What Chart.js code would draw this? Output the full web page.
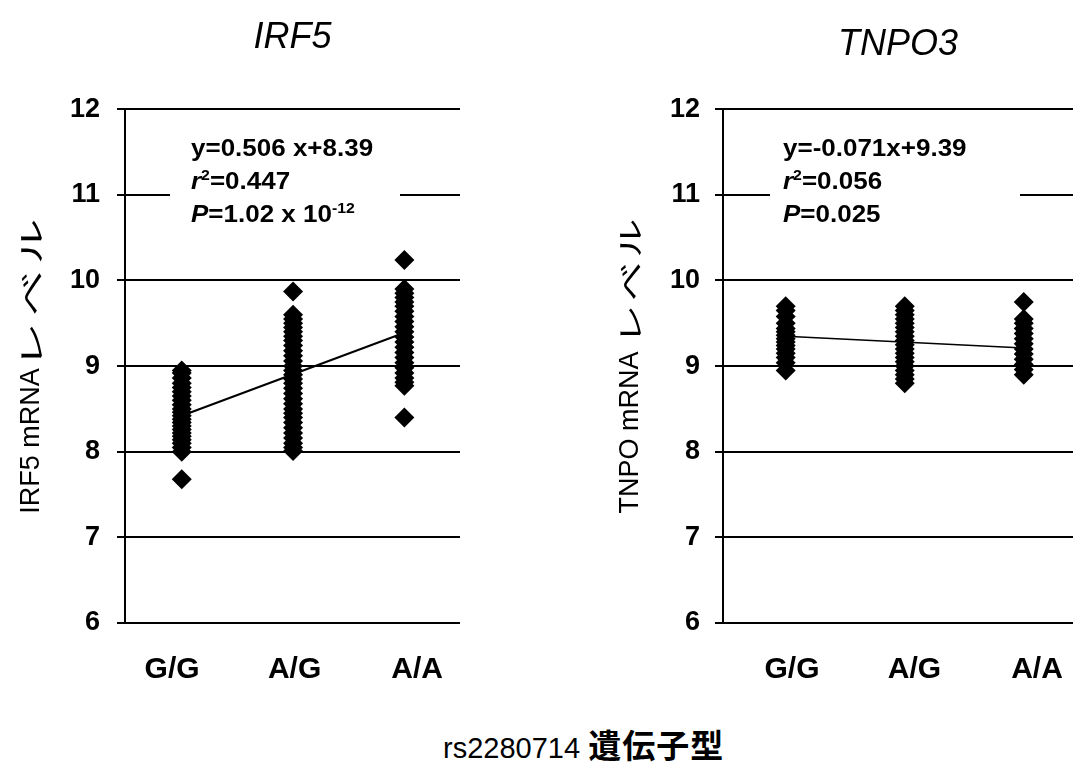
<!DOCTYPE html>
<html>
<head>
<meta charset="utf-8">
<script src="https://cdn.jsdelivr.net/npm/chart.js@4"></script>
<style>
  html, body { margin: 0; padding: 0; background: #fff; }
  #page { position: relative; width: 1073px; height: 764px; overflow: hidden; }
  #irf5 { position: absolute; left: 0; top: 0; }
  #tnpo { position: absolute; left: 600px; top: 0; }
  #xlab {
    position: absolute; left: 443px; top: 724px;
    font: 29px "Liberation Sans", Arial, sans-serif; line-height: 40px; color: #000;
    white-space: nowrap;
  }
  #xlab b { font-family: "Noto Sans CJK JP", sans-serif; font-size: 33px; font-weight: 700; letter-spacing: 1px; }
</style>
</head>
<body>
<div id="page">
  <canvas id="irf5" width="480" height="700"></canvas>
  <canvas id="tnpo" width="473" height="700"></canvas>
  <div id="xlab">rs2280714 <b>遺伝子型</b></div>
</div>
<script>
/* genotype groups on the x axis */
const genotypes = ["G/G", "A/G", "A/A"];

/* IRF5 mRNA levels, one array per genotype */
const irf5GG = [7.68, 8.00, 8.05, 8.10, 8.14, 8.18, 8.22, 8.26, 8.30, 8.34, 8.38, 8.42,
                8.46, 8.50, 8.55, 8.60, 8.65, 8.70, 8.75, 8.80, 8.86, 8.92, 8.95];
const irf5AG = [8.01, 8.05, 8.10, 8.16, 8.22, 8.28, 8.34, 8.40, 8.45, 8.50, 8.56, 8.62,
                8.68, 8.74, 8.80, 8.85, 8.90, 8.95, 9.00, 9.06, 9.12, 9.18, 9.24, 9.30,
                9.35, 9.40, 9.45, 9.50, 9.55, 9.60, 9.87];
const irf5AA = [8.40, 8.77, 8.81, 8.86, 8.92, 8.98, 9.04, 9.10, 9.16, 9.22, 9.28, 9.34,
                9.40, 9.46, 9.52, 9.58, 9.64, 9.70, 9.75, 9.80, 9.85, 9.90, 10.24];
const irf5Trend = [8.42, 9.39];   // at G/G and A/A

/* TNPO3 mRNA levels */
const tnpoGG = [8.95, 9.04, 9.10, 9.15, 9.20, 9.24, 9.28, 9.32, 9.36, 9.40, 9.44, 9.50,
                9.58, 9.65, 9.70];
const tnpoAG = [8.80, 8.85, 8.90, 8.95, 9.00, 9.05, 9.10, 9.15, 9.20, 9.25, 9.30, 9.35,
                9.40, 9.45, 9.50, 9.55, 9.60, 9.65, 9.70];
const tnpoAA = [8.90, 8.96, 9.02, 9.08, 9.14, 9.20, 9.26, 9.32, 9.38, 9.44, 9.50, 9.55, 9.75];
const tnpoTrend = [9.35, 9.21];

/* regression notes: [text, kind] runs, kind i = italic, sup = superscript */
const irf5Note = [
  [["y=0.506 x+8.39"]],
  [["r", "i"], ["2", "sup"], ["=0.447"]],
  [["P", "i"], ["=1.02 x 10"], ["-12", "sup"]],
];
const tnpoNote = [
  [["y=-0.071x+9.39"]],
  [["r", "i"], ["2", "sup"], ["=0.056"]],
  [["P", "i"], ["=0.025"]],
];

const SANS = '"Liberation Sans", Arial, sans-serif';
const CJK = '"Noto Sans CJK JP", sans-serif';
const NOTE_STRETCH = 1.13;   // the printed equations are set a bit wide

function drawRuns(ctx, runs, x, y, size) {
  ctx.save();
  ctx.translate(x, y);
  ctx.scale(NOTE_STRETCH, 1);
  let cx = 0;
  for (const [t, kind] of runs) {
    const sup = kind === "sup";
    ctx.font = `${kind === "i" ? "italic " : ""}bold ${sup ? Math.round(size * 0.62) : size}px ${SANS}`;
    ctx.fillText(t, cx, sup ? -size * 0.4 : 0);
    cx += ctx.measureText(t).width;
  }
  ctx.restore();
}

/* white box + regression text, and the rotated y title with wide katakana */
const notePlugin = {
  id: "note",
  beforeDatasetsDraw(chart, args, opts) {
    const { ctx, chartArea: a } = chart;
    ctx.save();
    ctx.fillStyle = "#fff";
    ctx.fillRect(a.left + opts.box[0], a.top + opts.box[1], opts.box[2], opts.box[3]);
    ctx.fillStyle = "#000";
    ctx.textBaseline = "alphabetic";
    opts.lines.forEach((runs, i) => {
      drawRuns(ctx, runs, a.left + opts.dx, a.top + opts.dy + i * opts.lh, opts.size);
    });
    ctx.restore();
  },
  afterDraw(chart, args, opts) {
    const { ctx, chartArea: a } = chart;
    const t = opts.ytitle;
    ctx.save();
    ctx.translate(t.x, (a.top + a.bottom) / 2);
    ctx.rotate(-Math.PI / 2);
    ctx.fillStyle = "#000";
    ctx.textBaseline = "middle";
    ctx.font = `${t.size}px ${SANS}`;
    const latinW = ctx.measureText(t.latin).width;
    ctx.font = `${t.size}px ${CJK}`;
    const chars = [...t.kana];
    const adv = c => ctx.measureText(c).width * t.stretch + t.gap;
    const kanaW = chars.reduce((w, c) => w + adv(c), 0) - t.gap;
    let x = -(latinW + kanaW) / 2;
    ctx.font = `${t.size}px ${SANS}`;
    ctx.fillText(t.latin, x, 0);
    x += latinW;
    ctx.font = `${t.size}px ${CJK}`;
    for (const c of chars) {
      ctx.save();
      ctx.translate(x, 0);
      ctx.scale(t.stretch, 1);
      ctx.fillText(c, 0, 0);
      ctx.restore();
      x += adv(c);
    }
    ctx.restore();
  },
};

function cloud(values, i) {
  return values.map(v => ({ x: i + 1, y: v }));
}

function makeChart(id, p) {
  const datasets = p.groups.map((vals, i) => ({
    label: genotypes[i],
    data: cloud(vals, i),
    pointStyle: "rectRot",
    pointRadius: 10,
    pointHoverRadius: 10,
    backgroundColor: "#000",
    borderWidth: 0,
    order: 1,
  }));
  datasets.push({
    label: "trend",
    data: p.trend.map((v, k) => ({ x: k === 0 ? 1 : genotypes.length, y: v })),
    showLine: true,
    pointRadius: 0,
    borderColor: "#000",
    borderWidth: p.trendWidth,
    order: 2,
  });

  return new Chart(document.getElementById(id), {
    type: "scatter",
    data: { datasets },
    plugins: [notePlugin],
    options: {
      responsive: false,
      animation: false,
      events: [],
      layout: { autoPadding: false, padding: { left: 0, right: p.padRight, top: 0, bottom: 0 } },
      plugins: {
        legend: { display: false },
        tooltip: { enabled: false },
        title: {
          display: true,
          text: p.title,
          fullSize: false,
          color: "#000",
          font: { family: SANS, size: 36, style: "italic", weight: "normal" },
          padding: p.titlePad,
        },
        note: {
          lines: p.note, dx: p.noteDx, dy: 47, lh: 33, size: 23, box: p.box,
          ytitle: p.ytitle,
        },
      },
      scales: {
        x: { type: "linear", display: false, min: p.xMin, max: p.xMax },
        xl: {
          type: "linear",
          position: "bottom",
          min: p.lMin,
          max: p.lMax,
          grid: { display: false, drawTicks: false },
          border: { display: false },
          afterBuildTicks: s => { s.ticks = genotypes.map((g, i) => ({ value: i + 1 })); },
          afterFit: s => { s.height = 77; s.paddingLeft = 0; s.paddingRight = 0; },
          ticks: {
            callback: v => genotypes[v - 1],
            color: "#000",
            padding: 29,
            maxRotation: 0,
            autoSkip: false,
            font: { family: SANS, size: 30, weight: "bold" },
          },
        },
        y: {
          min: 6,
          max: 12,
          afterFit: s => { s.width = p.yWidth; },
          grid: { color: "#000", lineWidth: 2, tickLength: 8, drawTicks: true },
          border: { display: true, color: "#000", width: 2 },
          ticks: {
            stepSize: 1,
            color: "#000",
            padding: p.tickPad,
            font: { family: SANS, size: 27, weight: "bold" },
          },
          title: { display: false },
        },
      },
    },
  });
}

makeChart("irf5", {
  title: "IRF5",
  titlePad: { top: 16, bottom: 50 },
  groups: [irf5GG, irf5AG, irf5AA],
  trend: irf5Trend,
  trendWidth: 2,
  note: irf5Note,
  noteDx: 66,
  box: [45, 26, 230, 100],
  xMin: 0.49, xMax: 3.5,
  lMin: 0.616, lMax: 3.35,
  yWidth: 125,
  tickPad: 17,
  padRight: 20,
  ytitle: { x: 32, size: 27, latin: "IRF5 mRNA", kana: "レベル", stretch: 1.7, gap: 6 },
});

makeChart("tnpo", {
  title: "TNPO3",
  titlePad: { top: 23, bottom: 43 },
  groups: [tnpoGG, tnpoAG, tnpoAA],
  trend: tnpoTrend,
  trendWidth: 1.5,
  note: tnpoNote,
  noteDx: 60,
  box: [47, 26, 250, 100],
  xMin: 0.473, xMax: 3.414,
  lMin: 0.437, lMax: 3.294,
  yWidth: 123,
  tickPad: 15,
  padRight: 0,
  ytitle: { x: 31, size: 27, latin: "TNPO mRNA ", kana: "レベル", stretch: 1.45, gap: 4 },
});
</script>
</body>
</html>
